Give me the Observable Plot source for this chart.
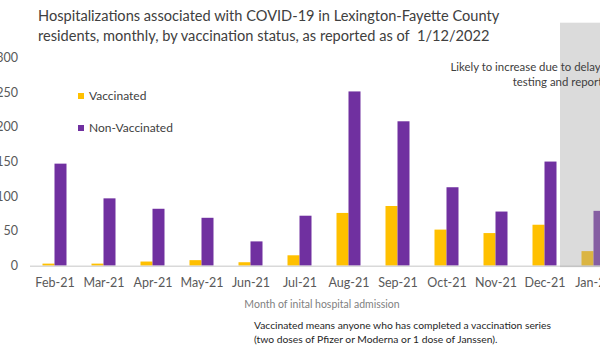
<!DOCTYPE html>
<html>
<head>
<meta charset="utf-8">
<script src="https://cdn.jsdelivr.net/npm/d3@7"></script>
<script src="https://cdn.jsdelivr.net/npm/@observablehq/plot@0.6"></script>
<style>
  html, body { margin: 0; padding: 0; background: #fff; overflow: hidden; }
  #wrap { position: relative; width: 600px; height: 350px; overflow: hidden; font-family: Lato, "Liberation Sans", sans-serif; }
  #chart { position: absolute; left: 0; top: 0; }
  .title { position: absolute; left: 38px; top: 6px; font-size: 14.6px; line-height: 20px; color: #404040; white-space: nowrap; }
  .xlabel { position: absolute; left: 322px; top: 298px; transform: translateX(-50%); font-size: 10.5px; color: #7f7f7f; white-space: nowrap; }
  .note { position: absolute; left: 254px; top: 318px; font-size: 10.3px; line-height: 14.3px; color: #262626; white-space: nowrap; }
  .legend { position: absolute; left: 78px; font-size: 12px; color: #404040; white-space: nowrap; }
  .legend .sw { display: inline-block; width: 6px; height: 6px; margin-right: 5px; vertical-align: middle; position: relative; top: -1px; }
</style>
</head>
<body>
<div id="wrap">
  <div id="chart"></div>
  <div class="title">Hospitalizations associated with COVID-19 in Lexington-Fayette County<br>residents, monthly, by vaccination status, as reported as of&nbsp; 1/12/2022</div>
  <div class="xlabel">Month of inital hospital admission</div>
  <div class="note">Vaccinated means anyone who has completed a vaccination series<br>(two doses of Pfizer or Moderna or 1 dose of Janssen).</div>
  <div id="legend"></div>
</div>
<script>
const months = ["Feb-21","Mar-21","Apr-21","May-21","Jun-21","Jul-21","Aug-21","Sep-21","Oct-21","Nov-21","Dec-21","Jan-22"];
const vaccinated = [3, 3, 6, 8, 5, 15, 76, 86, 52, 47, 59, 21];
const nonVaccinated = [147, 97, 82, 69, 35, 72, 251, 208, 113, 78, 150, 79];
const series = ["Vaccinated", "Non-Vaccinated"];
const seriesColors = ["#FFC000", "#7030A0"];
const yTicks = [0, 50, 100, 150, 200, 250, 300];
const pendingMonths = ["Jan-22"];
const annotation = ["Likely to increase due to delays in\ntesting and reporting"];

const rows = [];
months.forEach((m, i) => {
  rows.push({month: m, series: series[0], value: vaccinated[i]});
  rows.push({month: m, series: series[1], value: nonVaccinated[i]});
});

const chart = Plot.plot({
  width: 600,
  height: 350,
  marginLeft: 29.5,
  marginRight: -18,
  marginTop: 22.7,
  marginBottom: 84.3,
  style: {fontFamily: "Lato, 'Liberation Sans', sans-serif", fontSize: "12.5px", color: "#595959", background: "transparent", overflow: "hidden"},
  fx: {domain: months, padding: 0, label: null, axis: "bottom", tickSize: 0, tickPadding: 12},
  x: {domain: series, axis: null, paddingInner: 0, paddingOuter: 1.04},
  y: {domain: [0, 350], ticks: yTicks, tickSize: 0, tickPadding: 12.5, label: null},
  color: {domain: series, range: seriesColors},
  marks: [
    Plot.barY(rows, {fx: "month", x: "series", y: "value", fill: "series"}),
    Plot.ruleY([0], {stroke: "#d9d9d9", strokeWidth: 1.5}),
    Plot.rect(pendingMonths.map(m => ({month: m})), {fx: "month", y1: 0, y2: 350, fill: "#A6A6A6", fillOpacity: 0.4, insetLeft: -9, insetBottom: -1.5}),
    Plot.text(pendingMonths.map((m, i) => ({month: m, label: annotation[i]})), {fx: "month", text: "label", frameAnchor: "top-right", textAnchor: "end", lineAnchor: "top", lineHeight: 1.27, dy: 38, dx: -1, fontSize: 11.4, fill: "#404040"})
  ]
});
document.getElementById("chart").appendChild(chart);

const legend = document.getElementById("legend");
const legendTops = [88, 120];
series.forEach((s, i) => {
  const d = document.createElement("div");
  d.className = "legend";
  d.style.top = legendTops[i] + "px";
  d.innerHTML = `<span class="sw" style="background:${seriesColors[i]}"></span>${s}`;
  legend.appendChild(d);
});
</script>
</body>
</html>
